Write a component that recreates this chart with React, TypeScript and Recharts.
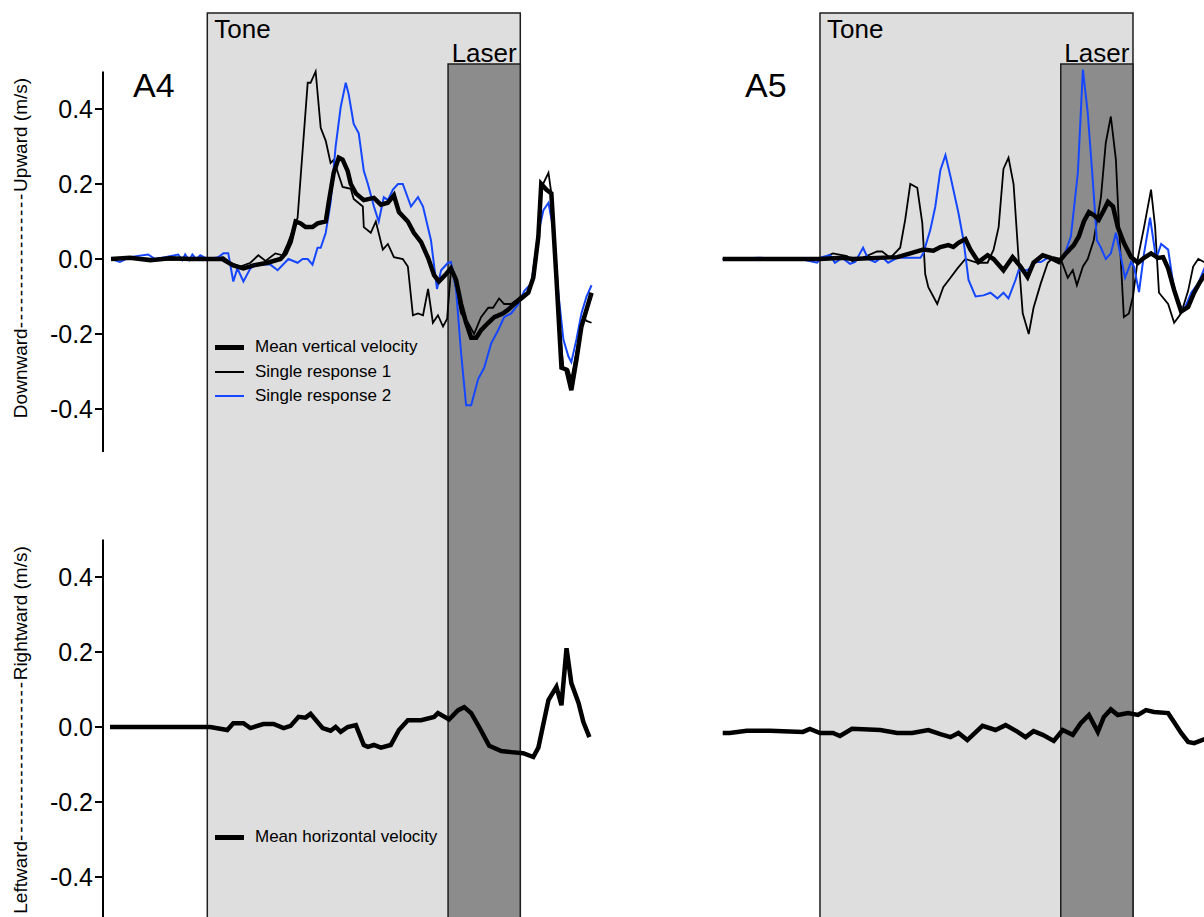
import React from "react";
import { ComposedChart, Line, XAxis, YAxis, ReferenceArea, ReferenceLine } from "recharts";

type Pt = [number, number];

const FONT = '"Liberation Sans", Arial, Helvetica, sans-serif';
const BLUE = "#1447ff";
const TONE_FILL = "#dedede";
const LASER_FILL = "#8c8c8c";
const EDGE = "#1e1e1e";

// time in ms, tone onset at 0
const TONE: Pt = [0, 1300];
const LASER: Pt = [1000, 1300];
const TONE_TOP = 0.656;
const LASER_TOP = 0.52;
const Y_TICKS = [-0.4, -0.2, 0, 0.2, 0.4];

// A4 vertical velocity
const a4VertMean: Pt[] = [
  [-400, 0], [-321, 0.003], [-237, -0.003], [-154, 0.002], [-71, 0], [0, 0], [62, 0], [108, -0.017],
  [150, -0.025], [192, -0.017], [250, -0.01], [304, 0], [325, 0.015], [346, 0.045], [367, 0.1],
  [388, 0.095], [408, 0.085], [437, 0.085], [458, 0.095], [492, 0.1], [504, 0.15], [525, 0.23],
  [546, 0.27], [562, 0.265], [583, 0.235], [596, 0.2], [617, 0.175], [650, 0.157], [692, 0.163],
  [721, 0.145], [750, 0.15], [775, 0.17], [796, 0.125], [833, 0.1], [858, 0.07], [888, 0.045],
  [917, 0.003], [942, -0.043], [962, -0.06], [992, -0.04], [1012, -0.025], [1033, -0.055],
  [1054, -0.12], [1075, -0.17], [1096, -0.21], [1117, -0.21], [1137, -0.19], [1167, -0.17],
  [1192, -0.155], [1229, -0.145], [1250, -0.135], [1275, -0.12], [1304, -0.105], [1333, -0.09],
  [1354, -0.05], [1375, 0.06], [1387, 0.2], [1408, 0.185], [1429, 0.175], [1450, -0.05],
  [1471, -0.29], [1492, -0.295], [1512, -0.35], [1533, -0.27], [1554, -0.18], [1575, -0.135],
  [1596, -0.09],
];

const a4Single1: Pt[] = [
  [-400, 0], [-279, 0.002], [-154, -0.002], [0, 0], [67, 0.005], [96, -0.01], [137, -0.02],
  [179, -0.01], [212, 0.01], [242, -0.005], [283, 0.015], [312, 0.01], [333, 0.04], [375, 0.11],
  [417, 0.47], [429, 0.47], [450, 0.5], [471, 0.35], [492, 0.315], [512, 0.256], [525, 0.264],
  [562, 0.192], [596, 0.187], [608, 0.16], [646, 0.14], [650, 0.085], [679, 0.07], [700, 0.1],
  [729, 0.025], [750, 0.04], [775, 0.005], [812, 0], [833, -0.02], [854, -0.15], [875, -0.145],
  [896, -0.15], [917, -0.08], [937, -0.17], [958, -0.15], [979, -0.18], [996, -0.16],
  [1012, -0.03], [1021, -0.04], [1054, -0.145], [1083, -0.17], [1108, -0.2], [1137, -0.155],
  [1167, -0.13], [1187, -0.13], [1212, -0.105], [1233, -0.12], [1262, -0.12], [1283, -0.11],
  [1312, -0.095], [1337, -0.09], [1367, 0], [1387, 0.19], [1417, 0.23], [1429, 0.175],
  [1458, -0.135], [1479, -0.29], [1500, -0.295], [1512, -0.32], [1542, -0.215], [1562, -0.155],
  [1575, -0.165], [1596, -0.17],
];

const a4Single2: Pt[] = [
  [-400, 0], [-363, -0.008], [-321, 0.005], [-246, 0.012], [-217, 0], [-175, 0.005], [-121, 0.012],
  [-104, -0.003], [-92, 0.012], [-75, -0.003], [-62, 0.012], [-46, 0], [-29, 0.01], [0, 0],
  [46, 0.005], [67, 0.015], [87, 0.015], [108, -0.06], [125, -0.025], [150, -0.06], [179, -0.025],
  [200, -0.015], [262, -0.015], [292, -0.03], [337, 0], [375, -0.01], [396, 0], [417, 0],
  [437, -0.015], [458, 0.03], [471, 0.03], [492, 0.07], [512, 0.15], [533, 0.3], [554, 0.405],
  [575, 0.47], [587, 0.44], [608, 0.36], [629, 0.335], [650, 0.235], [667, 0.2], [692, 0.14],
  [712, 0.1], [733, 0.165], [750, 0.157], [771, 0.185], [792, 0.2], [812, 0.2], [846, 0.14],
  [875, 0.165], [896, 0.14], [929, 0.05], [954, -0.08], [971, -0.03], [1000, -0.01],
  [1012, -0.008], [1033, -0.08], [1054, -0.25], [1075, -0.39], [1096, -0.39], [1125, -0.32],
  [1150, -0.29], [1179, -0.225], [1208, -0.19], [1233, -0.155], [1262, -0.145], [1292, -0.12],
  [1317, -0.085], [1346, -0.065], [1375, 0.07], [1396, 0.13], [1417, 0.15], [1437, 0.08],
  [1458, -0.09], [1479, -0.215], [1500, -0.26], [1512, -0.275], [1533, -0.215], [1554, -0.145],
  [1575, -0.1], [1596, -0.07],
];

// A4 horizontal velocity
const a4Horz: Pt[] = [
  [-404, 0], [-237, 0], [-71, 0], [12, 0], [83, -0.008], [108, 0.01], [150, 0.01], [179, -0.003],
  [233, 0.008], [275, 0.008], [317, -0.003], [346, 0.003], [379, 0.027], [408, 0.025],
  [429, 0.035], [479, -0.003], [512, -0.01], [533, 0], [554, -0.013], [583, 0], [617, 0.005],
  [650, -0.048], [667, -0.053], [692, -0.048], [721, -0.055], [762, -0.048], [796, -0.008],
  [833, 0.018], [888, 0.018], [942, 0.027], [958, 0.037], [1004, 0.02], [1042, 0.045],
  [1067, 0.053], [1096, 0.037], [1129, 0], [1171, -0.05], [1221, -0.064], [1262, -0.067],
  [1312, -0.07], [1354, -0.08], [1375, -0.055], [1417, 0.072], [1450, 0.107], [1471, 0.058],
  [1492, 0.21], [1512, 0.117], [1542, 0.064], [1562, 0.013], [1587, -0.027],
];

// A5 vertical velocity
const a5VertMean: Pt[] = [
  [-404, 0], [-250, 0], [-83, 0], [0, 0], [96, 0.003], [137, 0], [237, 0.003], [321, 0.005],
  [375, 0.015], [429, 0.025], [471, 0.022], [500, 0.032], [533, 0.037], [554, 0.032],
  [575, 0.043], [604, 0.053], [625, 0.025], [658, -0.008], [696, 0.01], [721, 0], [762, -0.03],
  [800, 0.005], [833, -0.02], [862, -0.048], [887, -0.01], [925, 0.01], [958, 0.003],
  [992, -0.008], [1021, 0.015], [1054, 0.037], [1075, 0.06], [1096, 0.1], [1117, 0.125],
  [1137, 0.117], [1158, 0.105], [1179, 0.13], [1196, 0.152], [1217, 0.14], [1237, 0.085],
  [1262, 0.043], [1292, 0.005], [1321, -0.01], [1346, 0.003], [1375, 0.015], [1404, 0.003],
  [1425, 0.005], [1446, -0.025], [1471, -0.083], [1500, -0.14], [1529, -0.128], [1554, -0.09],
  [1575, -0.065], [1600, -0.04],
];

const a5Single1: Pt[] = [
  [-404, 0], [0, 0], [54, 0.015], [112, 0.008], [137, -0.008], [237, 0.02], [258, 0.02],
  [292, 0.003], [333, 0.03], [354, 0.105], [375, 0.2], [404, 0.19], [425, 0.095], [437, -0.04],
  [450, -0.075], [487, -0.12], [512, -0.075], [542, -0.05], [571, -0.025], [604, 0],
  [654, -0.01], [696, -0.01], [721, 0.025], [742, 0.085], [762, 0.24], [783, 0.27], [804, 0.2],
  [825, 0], [842, -0.145], [867, -0.2], [887, -0.13], [917, -0.065], [946, -0.01], [971, 0.005],
  [1000, 0], [1029, -0.05], [1050, -0.03], [1067, -0.07], [1092, -0.02], [1112, 0],
  [1137, 0.05], [1167, 0.165], [1187, 0.31], [1208, 0.38], [1229, 0.265], [1242, 0.085],
  [1262, -0.155], [1283, -0.145], [1300, -0.1], [1321, 0.005], [1346, 0.085], [1375, 0.185],
  [1392, 0.085], [1408, -0.09], [1446, -0.12], [1471, -0.17], [1500, -0.145], [1529, -0.085],
  [1550, -0.02], [1571, 0], [1600, -0.01],
];

const a5Single2: Pt[] = [
  [-404, 0], [-250, 0.003], [-83, 0], [-12, -0.01], [8, 0.005], [42, 0.01], [62, -0.01],
  [92, 0.003], [125, -0.013], [146, -0.008], [179, 0.03], [200, 0], [229, -0.008], [258, 0.005],
  [283, -0.01], [321, 0.003], [417, 0.003], [429, 0.015], [458, 0.077], [479, 0.14], [500, 0.237],
  [521, 0.277], [542, 0.22], [575, 0.123], [596, 0.05], [617, -0.056], [646, -0.1], [679, -0.097],
  [708, -0.09], [737, -0.105], [762, -0.09], [783, -0.105], [812, -0.056], [825, -0.03],
  [862, -0.03], [896, -0.008], [917, -0.008], [946, 0.003], [987, -0.008], [1012, 0.005],
  [1042, 0.06], [1071, 0.23], [1092, 0.505], [1112, 0.39], [1133, 0.21], [1150, 0.05],
  [1167, 0.03], [1187, 0], [1208, 0.015], [1229, 0.07], [1250, 0.005], [1267, -0.05],
  [1292, -0.008], [1304, -0.02], [1325, -0.088], [1346, 0.015], [1371, 0.11], [1396, 0],
  [1417, 0.04], [1446, 0.025], [1467, -0.065], [1487, -0.12], [1512, -0.135], [1542, -0.09],
  [1571, -0.065], [1600, -0.02],
];

// A5 horizontal velocity
const a5Horz: Pt[] = [
  [-404, -0.016], [-375, -0.016], [-304, -0.01], [-208, -0.01], [-71, -0.013], [-42, -0.005],
  [0, -0.016], [54, -0.016], [83, -0.024], [133, -0.005], [250, -0.008], [321, -0.016],
  [383, -0.016], [450, -0.008], [500, -0.019], [542, -0.027], [575, -0.016], [612, -0.035],
  [675, 0.003], [729, -0.008], [771, 0.005], [821, -0.013], [854, -0.027], [887, -0.011],
  [925, -0.021], [971, -0.037], [1008, -0.008], [1050, -0.021], [1083, 0.01], [1117, 0.032],
  [1154, -0.013], [1179, 0.027], [1208, 0.047], [1237, 0.032], [1279, 0.037], [1321, 0.032],
  [1354, 0.045], [1387, 0.04], [1446, 0.037], [1471, 0.013], [1500, -0.016], [1529, -0.04],
  [1554, -0.043], [1600, -0.032],
];

// axis titles: [negative word, dash run, positive word]
const VERT_LABEL: [string, string, string] = ["Downward", "-".repeat(17), "Upward (m/s)"];
const HORZ_LABEL: [string, string, string] = ["Leftward", "-".repeat(20), "Rightward (m/s)"];

const vertLegend = [
  { label: "Mean vertical velocity", color: "#000", width: 5 },
  { label: "Single response 1", color: "#000", width: 2 },
  { label: "Single response 2", color: BLUE, width: 2 },
];
const horzLegend = [{ label: "Mean horizontal velocity", color: "#000", width: 5 }];

type Series = { name: string; pts: Pt[]; color: string; width: number };

const toRows = (pts: Pt[]) => pts.map(([t, v]) => ({ t, v }));

const a4X: Pt = [-433.2, 1672.6];
const a5X: Pt = [-415.3, 1661.4];
const upperY: Pt = [-0.616, 0.67733];
const lowerY: Pt = [-0.54133, 0.632];

function Panel({
  xDomain,
  yDomain,
  width,
  height,
  marginTop,
  upper,
  axisLabel,
  labelY,
  axisSpan,
  series,
}: {
  xDomain: Pt;
  yDomain: Pt;
  width: number;
  height: number;
  marginTop: number;
  upper: boolean;
  axisLabel?: [string, string, string];
  labelY?: number;
  axisSpan?: Pt;
  series: Series[];
}) {
  const showAxis = Boolean(axisLabel);
  return (
    <ComposedChart width={width} height={height} margin={{ top: marginTop, right: 0, bottom: 0, left: 0 }}>
      <XAxis type="number" dataKey="t" domain={xDomain} allowDataOverflow hide />
      <YAxis
        type="number"
        dataKey="v"
        domain={yDomain}
        allowDataOverflow
        hide={!showAxis}
        width={103}
        ticks={Y_TICKS}
        interval={0}
        tickFormatter={(v: number) => v.toFixed(1)}
        axisLine={false}
        tickLine={{ stroke: "#000", strokeWidth: 2 }}
        tickSize={8}
        tick={{ fill: "#000", fontSize: 25, fontFamily: FONT }}
        label={
          axisLabel
            ? {
                value: axisLabel.join(""),
                content: () => (
                  <text
                    x={20}
                    y={labelY}
                    transform={`rotate(-90 20 ${labelY})`}
                    textAnchor="middle"
                    dominantBaseline="central"
                    style={{ fontSize: "19px", fontFamily: FONT }}
                    fill="#000"
                  >
                    <tspan>{axisLabel[0]}</tspan>
                    <tspan letterSpacing={1.7}>{axisLabel[1]}</tspan>
                    <tspan>{axisLabel[2]}</tspan>
                  </text>
                ),
              }
            : undefined
        }
      />
      <ReferenceArea
        x1={TONE[0]}
        x2={TONE[1]}
        y1={-3}
        y2={upper ? TONE_TOP : 3}
        ifOverflow="hidden"
        fill={TONE_FILL}
        fillOpacity={1}
        stroke={EDGE}
        strokeWidth={1.5}
        label={
          upper
            ? { value: "Tone", position: "insideTopLeft", offset: 7, fontSize: 26, fontFamily: FONT, fill: "#000" }
            : undefined
        }
      />
      <ReferenceArea
        x1={LASER[0]}
        x2={LASER[1]}
        y1={-3}
        y2={upper ? LASER_TOP : 3}
        ifOverflow="hidden"
        fill={LASER_FILL}
        fillOpacity={1}
        stroke={EDGE}
        strokeWidth={1.5}
        label={
          upper
            ? { value: "Laser", position: "top", offset: 2, fontSize: 26, fontFamily: FONT, fill: "#000" }
            : undefined
        }
      />
      {showAxis && axisSpan ? (
        <ReferenceLine
          segment={[
            { x: xDomain[0], y: axisSpan[1] },
            { x: xDomain[0], y: axisSpan[0] },
          ]}
          stroke="#000"
          strokeWidth={2}
          ifOverflow="visible"
        />
      ) : null}
      {series.map((s) => (
        <Line
          key={s.name}
          name={s.name}
          data={toRows(s.pts)}
          dataKey="v"
          type="linear"
          stroke={s.color}
          strokeWidth={s.width}
          dot={false}
          activeDot={false}
          isAnimationActive={false}
        />
      ))}
    </ComposedChart>
  );
}

function LegendBox({ items, left, top }: { items: typeof vertLegend; left: number; top: number }) {
  return (
    <>
      {items.map((it, i) => (
        <div
          key={it.label}
          style={{
            position: "absolute",
            left,
            top: top + i * 24.5 - 11,
            height: 22,
            display: "flex",
            alignItems: "center",
            fontSize: 17,
            fontFamily: FONT,
            color: "#000",
            whiteSpace: "nowrap",
          }}
        >
          <span style={{ display: "inline-block", width: 29, height: it.width, background: it.color }} />
          <span style={{ marginLeft: 11 }}>{it.label}</span>
        </div>
      ))}
    </>
  );
}

const abs = (left: number, top: number): React.CSSProperties => ({ position: "absolute", left, top });

export default function App() {
  return (
    <div
      style={{
        position: "absolute",
        left: 0,
        top: 0,
        width: 1204,
        height: 917,
        overflow: "hidden",
        background: "#fff",
        fontFamily: FONT,
      }}
    >
      <div style={abs(0, 0)}>
        <Panel
          xDomain={a4X}
          yDomain={upperY}
          width={610}
          height={490}
          marginTop={5}
          upper
          axisLabel={VERT_LABEL}
          labelY={248}
          axisSpan={[-0.515, 0.5]}
          series={[
            { name: "Single response 1", pts: a4Single1, color: "#000", width: 1.8 },
            { name: "Single response 2", pts: a4Single2, color: BLUE, width: 2 },
            { name: "Mean vertical velocity", pts: a4VertMean, color: "#000", width: 4.5 },
          ]}
        />
      </div>
      <div style={abs(0, 490)}>
        <Panel
          xDomain={a4X}
          yDomain={lowerY}
          width={610}
          height={440}
          marginTop={0}
          upper={false}
          axisLabel={HORZ_LABEL}
          labelY={240}
          axisSpan={[lowerY[0], 0.5]}
          series={[{ name: "Mean horizontal velocity", pts: a4Horz, color: "#000", width: 4.5 }]}
        />
      </div>
      <div style={abs(720, 0)}>
        <Panel
          xDomain={a5X}
          yDomain={upperY}
          width={500}
          height={490}
          marginTop={5}
          upper
          series={[
            { name: "Single response 1", pts: a5Single1, color: "#000", width: 1.8 },
            { name: "Single response 2", pts: a5Single2, color: BLUE, width: 2 },
            { name: "Mean vertical velocity", pts: a5VertMean, color: "#000", width: 4.5 },
          ]}
        />
      </div>
      <div style={abs(720, 490)}>
        <Panel
          xDomain={a5X}
          yDomain={lowerY}
          width={500}
          height={440}
          marginTop={0}
          upper={false}
          series={[{ name: "Mean horizontal velocity", pts: a5Horz, color: "#000", width: 4.5 }]}
        />
      </div>

      <div style={{ ...abs(133, 68), fontSize: 34, lineHeight: "34px" }}>A4</div>
      <div style={{ ...abs(745, 68), fontSize: 34, lineHeight: "34px" }}>A5</div>

      <LegendBox items={vertLegend} left={215} top={347} />
      <LegendBox items={horzLegend} left={215} top={837} />
    </div>
  );
}
